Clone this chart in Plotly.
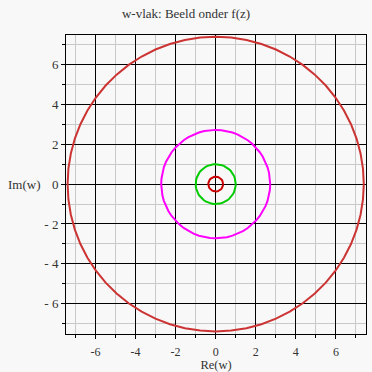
import numpy as np
import plotly.graph_objects as go

# Data: radii of the image circles |w| = e^a for the lines Re(z)=a
labels = ["Re(z)=-1", "Re(z)=0", "Re(z)=1", "Re(z)=2"]
radii = [0.37, 1.0, 2.72, 7.39]
colors = ["#cc0000", "#00cc00", "#ff00ff", "#cc3333"]
n_points = [40, 60, 60, 60]

tick_vals = [-6, -4, -2, 0, 2, 4, 6]
x_tick_text = ["-6", "-4", "-2", "0", "2", "4", "6"]
y_tick_text = ["- 6", "- 4", "- 2", "0", "2", "4", "6"]

fig = go.Figure()
for lab, r, c, n in zip(labels, radii, colors, n_points):
    t = np.linspace(0, 2 * np.pi, n + 1)
    fig.add_trace(go.Scatter(x=r * np.cos(t), y=r * np.sin(t), mode="lines",
                             line=dict(color=c, width=2), name=lab,
                             showlegend=False, hoverinfo="skip"))

font_fam = "Liberation Serif, Times New Roman, serif"
axis_common = dict(
    tickvals=tick_vals,
    showgrid=True, gridcolor="#000000", gridwidth=1,
    zeroline=False,
    showline=True, linecolor="#000000", linewidth=1, mirror=True,
    ticks="outside", ticklen=4, tickcolor="#000000",
    minor=dict(dtick=1, tick0=0, showgrid=True, gridcolor="#c8c8c8",
               gridwidth=1, ticks="outside", ticklen=3, tickcolor="#000000"),
    tickfont=dict(family=font_fam, size=13, color="#333333"),
)

fig.update_xaxes(range=[-7.47, 7.5], ticktext=x_tick_text, ticklabelstandoff=3,
                 automargin=False,
                 title=dict(text="Re(w)", standoff=2,
                            font=dict(family=font_fam, size=12.5, color="#333333")),
                 **axis_common)
fig.update_yaxes(range=[-7.52, 7.48], ticktext=y_tick_text, automargin=False, **axis_common)
fig.update_xaxes(tickfont_size=12)

fig.update_layout(
    width=372, height=372,
    margin=dict(l=66, r=6, t=35, b=38),
    paper_bgcolor="#f8f8f8", plot_bgcolor="#f8f8f8",
    title=dict(text="w-vlak: Beeld onder f(z)", x=0.5, xref="container", xanchor="center",
               y=1 - 13 / 372, yref="container", yanchor="middle",
               font=dict(family=font_fam, size=13, color="#333333")),
    annotations=[
        dict(text="Im(w)", xref="paper", yref="paper", x=-0.138, y=0.5,
             showarrow=False, xanchor="center", yanchor="middle",
             font=dict(family=font_fam, size=13, color="#333333")),
    ],
)

fig.write_html("out.html", config={"displayModeBar": False},
               post_script="document.body.style.margin='0';document.body.style.background='#f8f8f8';")
